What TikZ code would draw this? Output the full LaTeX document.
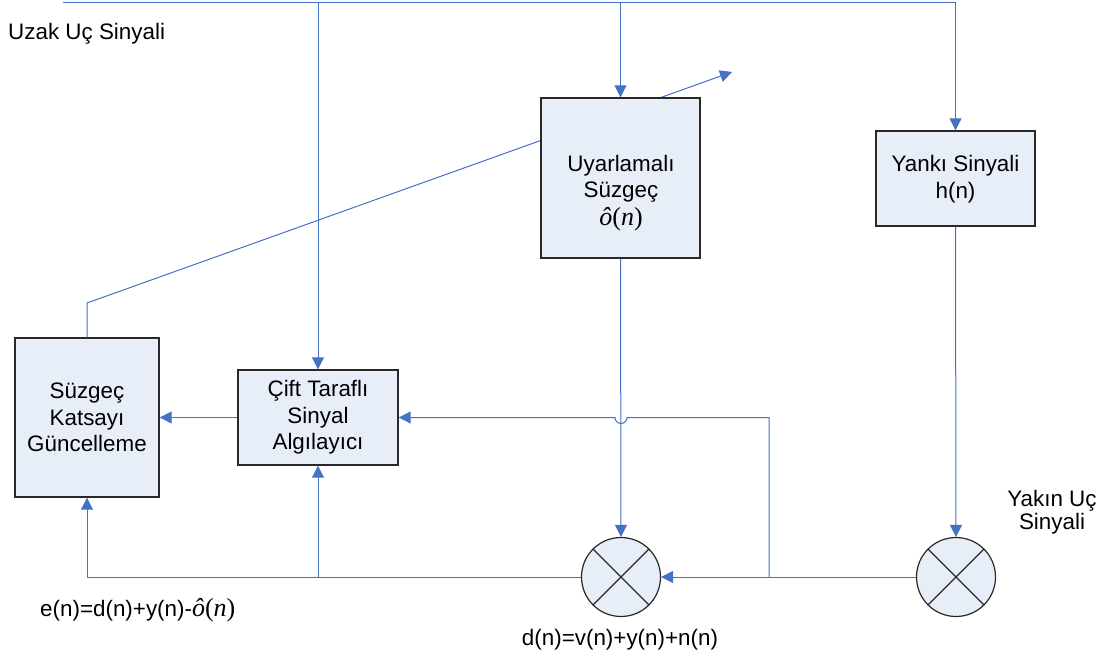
\documentclass[tikz,border=0pt]{standalone}
\usepackage{fontspec}
\setmainfont{Liberation Sans}
\newfontfamily\tnr{Liberation Serif}
\usetikzlibrary{arrows.meta}
\definecolor{wire}{RGB}{68,114,196}
\definecolor{boxfill}{RGB}{232,238,248}
\definecolor{boxline}{RGB}{40,40,40}
\newcommand{\ohat}{{\tnr\fontsize{26}{28}\selectfont\itshape ô\upshape(\itshape n\upshape)}}
\tikzset{
  wire/.style={draw=wire, line width=1pt},
  arr/.style={wire, -{Triangle[length=12pt,width=12pt]}},
  blockbox/.style={draw=boxline, fill=boxfill, line width=1.4pt, inner sep=0pt},
  mixer/.style={circle, draw=boxline, fill=boxfill, line width=1.2pt, minimum size=79pt, inner sep=0pt},
  lbl/.style={align=center, inner sep=0pt, font=\fontsize{22.4}{26.7}\selectfont},
}
\begin{document}
\begin{tikzpicture}[x=1pt, y=-1pt]
\useasboundingbox (0,0) rectangle (1111,661);

% feedback line from the coefficient update, drawn under the filter box
\coordinate (upd) at (87,303);
\coordinate (tip) at (732,72);

% blocks
\node[blockbox, minimum width=144pt, minimum height=159pt] (upd box) at (87,417.5) {};
\node[lbl] at (87,417.5) {Süzgeç\\Katsayı\\Güncelleme};
\node[blockbox, minimum width=160pt, minimum height=95pt] (dtd) at (318,417.5) {};
\node[lbl] at (318,417.5) {Çift Taraflı\\Sinyal\\Algılayıcı};
\draw[arr] (upd box.north) -- (upd) -- (tip);
\node[blockbox, minimum width=159pt, minimum height=160pt] (af) at (620.5,178) {};
\node[lbl] at (621,193) {Uyarlamalı\\Süzgeç\\[1pt]\ohat};
\node[blockbox, minimum width=159pt, minimum height=95pt] (echo) at (955.5,178.5) {};
\node[lbl] at (955.5,179) {Yankı Sinyali\\h(n)};

% multipliers
\node[mixer] (m1) at (621,577) {};
\draw[boxline, line width=1.2pt] (m1.north west) -- (m1.south east) (m1.north east) -- (m1.south west);
\node[mixer] (m2) at (956,577) {};
\draw[boxline, line width=1.2pt] (m2.north west) -- (m2.south east) (m2.north east) -- (m2.south west);

% far-end input bus
\coordinate (in) at (63,3);
\coordinate (busR) at (955.5,3);
\draw[wire] (in) -- (busR);
\draw[arr] (dtd.north |- in) -- (dtd.north);
\draw[arr] (af.north |- in) -- (af.north);
\draw[arr] (busR) -- (echo.north);

% echo path to near-end mixer
\draw[arr] (echo.south) -- (m2.north);

% filter output into the first mixer
\draw[arr] (af.south) -- (m1.north);

% near-end signal: to first mixer and to detector (with hop)
\coordinate (split) at (769,577);
\coordinate (corner) at (769,417.5);
\draw[wire] (m2.west) -- (split);
\draw[arr] (split) -- (m1.east);
\draw[arr] (split) -- (corner) -- (627,417.5) arc[start angle=0, end angle=-180, radius=6pt] -- (dtd.east);

% error signal back to detector and update block
\coordinate (eL) at (87,577);
\coordinate (eJ) at (318,577);
\draw[wire] (m1.west) -- (eL);
\draw[arr] (eL) -- (upd box.south);
\draw[arr] (eJ) -- (dtd.south);

% detector decision to update block
\draw[arr] (dtd.west) -- (upd box.east);

% labels
\node[lbl, anchor=west] (far) at (8,34) {Uzak Uç Sinyali};
\node[lbl, font=\fontsize{22.4}{23}\selectfont] (near) at (1052,512) {Yakın Uç\\Sinyali};
\node[lbl, anchor=west] (elbl) at (40,610) {e(n)=d(n)+y(n)-\ohat};
\node[lbl] (dlbl) at (620,640) {d(n)=v(n)+y(n)+n(n)};
\end{tikzpicture}
\end{document}
